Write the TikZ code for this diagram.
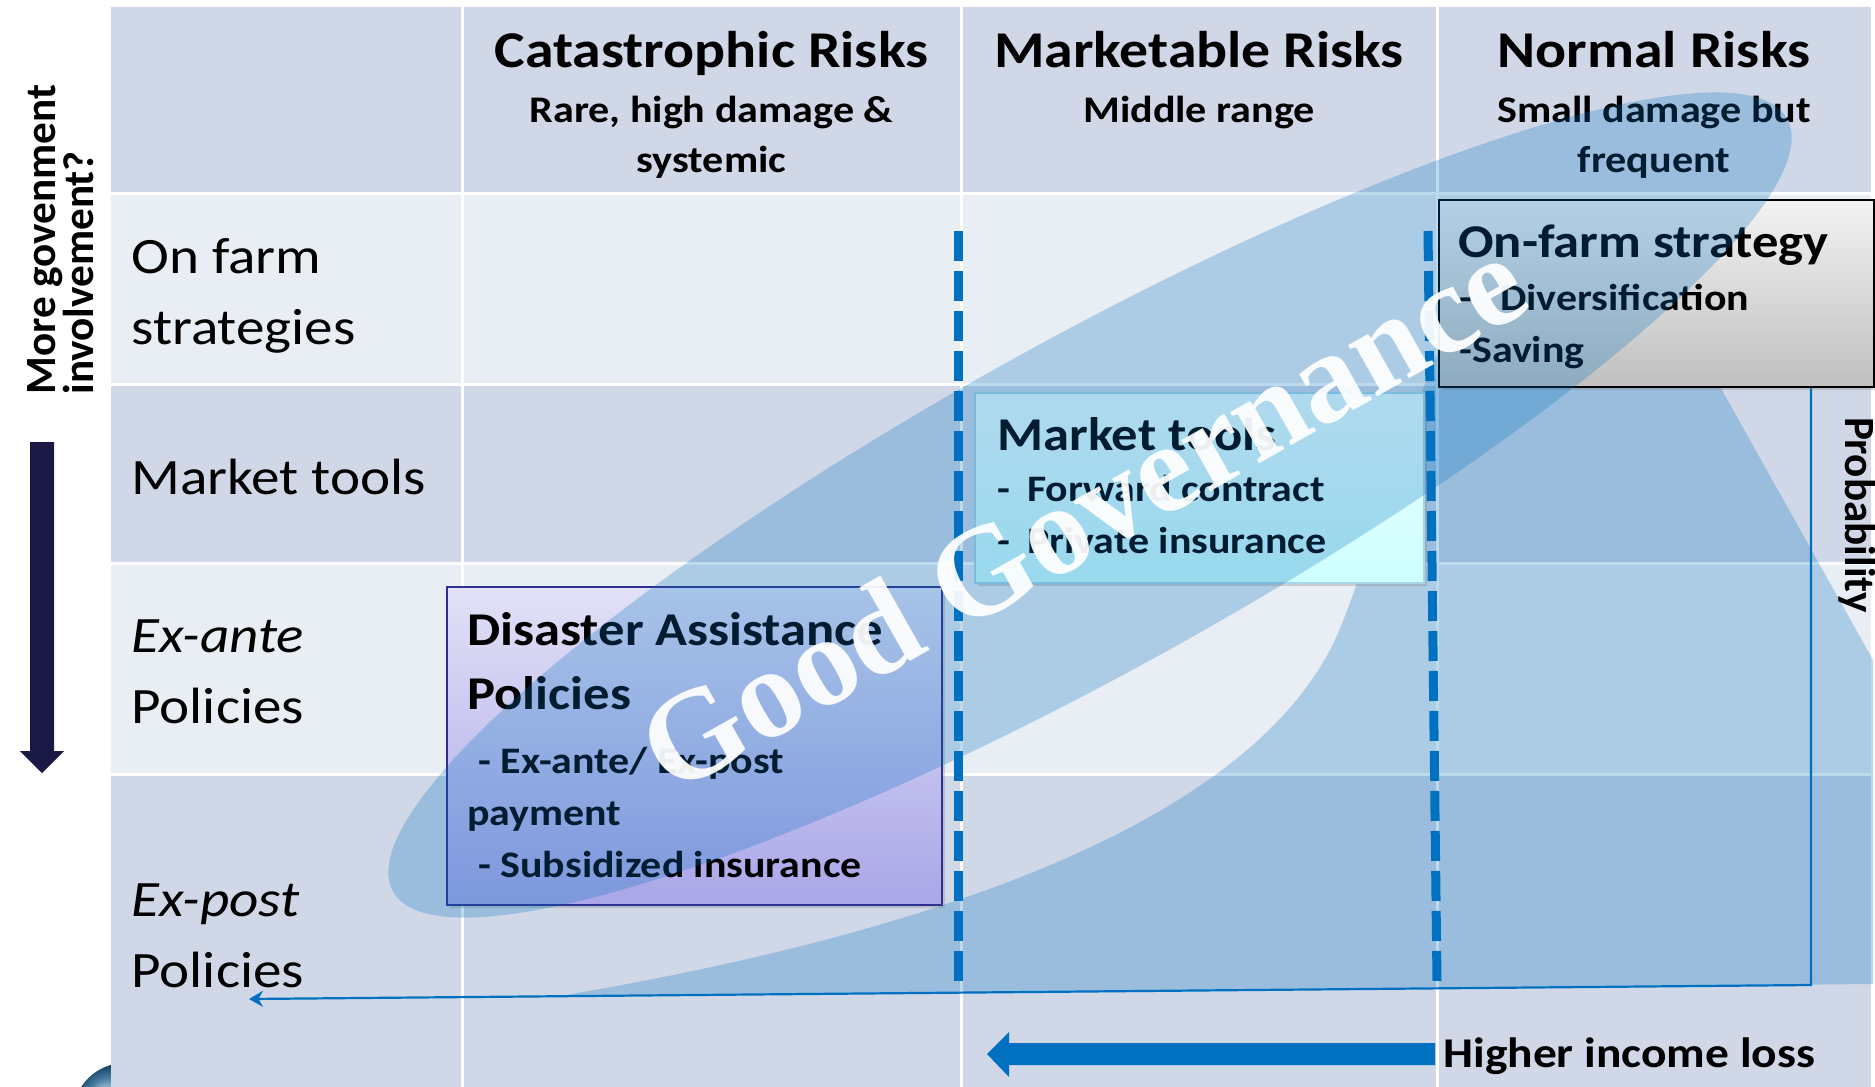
\documentclass[tikz,border=0pt]{standalone}
\usepackage{fontspec}
\setmainfont{Carlito}[FakeStretch=1.12]
\newfontfamily\plaincal{Carlito}
\newfontfamily\serifgg{Liberation Serif}
\usetikzlibrary{calc,shadows,arrows.meta}

\definecolor{rowdark}{RGB}{208,216,232}
\definecolor{rowlight}{RGB}{233,237,244}
\definecolor{riskblue}{RGB}{0,112,192}
\definecolor{navyarrow}{RGB}{26,25,70}
\definecolor{disline}{RGB}{46,49,146}
\definecolor{distop}{RGB}{226,225,246}
\definecolor{disbot}{RGB}{170,166,232}
\definecolor{mkttop}{RGB}{238,255,255}
\definecolor{mktbot}{RGB}{206,255,255}
\definecolor{mktline}{RGB}{165,215,232}
\definecolor{farmtop}{RGB}{242,242,242}
\definecolor{farmbot}{RGB}{192,192,192}
\definecolor{globeblue}{RGB}{22,92,140}

\tikzset{
	hdr/.style={font=\bfseries\fontsize{25.8}{30}\selectfont, anchor=base, inner sep=0pt},
	hdrsub/.style={font=\bfseries\fontsize{18.8}{25}\selectfont, anchor=base, align=center, inner sep=0pt},
	rowlabel/.style={font=\fontsize{25.5}{35.5}\selectfont, anchor=base west, align=left, inner sep=0pt},
	tipbox/.style={anchor=north west, inner sep=0pt, drop shadow={shadow xshift=1.5pt, shadow yshift=-1.5pt, opacity=0.3}},
	boxtitle/.style={font=\bfseries\fontsize{23.5}{32}\selectfont, anchor=base west, align=left, inner sep=0pt},
	boxitem/.style={font=\bfseries\fontsize{18.7}{26}\selectfont, anchor=base west, align=left, inner sep=0pt},
	riskdash/.style={riskblue, line width=4.5pt, dash pattern=on 15pt off 5pt},
	tint/.style={fill=riskblue, fill opacity=0.26},
	sidelabel/.style={font=\plaincal\bfseries\fontsize{21.6}{19}\selectfont, inner sep=0pt},
}

\begin{document}
\begin{tikzpicture}[x=0.5pt,y=-0.5pt]
	%Grid of the table: column lines \xa..\xe, row lines \ya..\yf
	\pgfmathsetmacro{\xa}{111}
	\pgfmathsetmacro{\xb}{462}
	\pgfmathsetmacro{\xc}{961}
	\pgfmathsetmacro{\xd}{1437}
	\pgfmathsetmacro{\xe}{1871}
	\pgfmathsetmacro{\ya}{7}
	\pgfmathsetmacro{\yb}{193}
	\pgfmathsetmacro{\yc}{384}
	\pgfmathsetmacro{\yd}{563}
	\pgfmathsetmacro{\ye}{774}
	\pgfmathsetmacro{\yf}{1087}

	\useasboundingbox[fill=white] (0,0) rectangle (1875,1087);

	%Logo peeking out at the bottom left
	\shade[ball color=globeblue] (125,1115) circle [radius=52];

	%Draw the rows, then the white cell borders
	\fill[rowdark] (\xa,\ya) rectangle (\xe,\yb);
	\fill[rowlight] (\xa,\yb) rectangle (\xe,\yc);
	\fill[rowdark] (\xa,\yc) rectangle (\xe,\yd);
	\fill[rowlight] (\xa,\yd) rectangle (\xe,\ye);
	\fill[rowdark] (\xa,\ye) rectangle (\xe,\yf);
	\foreach \yy in {\yb,\yc,\yd,\ye}
		\draw[white,line width=1.5pt] (\xa,\yy) -- (\xe,\yy);
	\foreach \xx in {\xb,\xc,\xd}
		\draw[white,line width=1.5pt] (\xx,\ya) -- (\xx,\yf);

	%Column heads (a multi-line node sits on the baseline of its last line)
	\node[hdr] (hdr_cat) at (711.5,67) {Catastrophic Risks};
	\node[hdr] (hdr_mkt) at (1199,67) {Marketable Risks};
	\node[hdr] (hdr_norm) at (1654,67) {Normal Risks};
	\node[hdrsub] (sub_cat) at (711.5,172) {Rare, high damage \&\\systemic};
	\node[hdrsub] (sub_mkt) at (1199,122) {Middle range};
	\node[hdrsub] (sub_norm) at (1654,172) {Small damage but\\frequent};

	%Row heads
	\node[rowlabel] (row_farm) at (131,344) {On farm\\strategies};
	\node[rowlabel] (row_mkt) at (131,494) {Market tools};
	\node[rowlabel] (row_ante) at (131,723) {\textit{Ex-ante}\\Policies};
	\node[rowlabel] (row_post) at (131,987) {\textit{Ex-post}\\Policies};

	%Probability curve over income loss
	\fill[tint] (560,996) .. controls (950,930) and (1240,820) .. (1330,650)
		.. controls (1380,555) and (1440,225) .. (1560,212)
		.. controls (1610,208) and (1669,296) .. (1718,383)
		-- (1873,660) -- (1873,984) -- cycle;

	%Axes of the curve
	\coordinate (axis_top) at (1811,386);
	\coordinate (axis_corner) at (1811,985);
	\coordinate (axis_end) at (249,999);
	\draw[riskblue,line width=1.1pt,-{Stealth[length=7pt,width=8pt]}] (axis_top) -- (axis_corner) -- (axis_end);

	%Borders between the risk layers
	\draw[riskdash] (958,231) -- (958,981);
	\draw[riskdash] (1428,231) -- (1437,981);

	%Boxes of instruments
	\node[tipbox, draw=disline, line width=1pt, top color=distop, bottom color=disbot,
		minimum width=247.5pt, minimum height=159pt] (box_dis) at (446,586) {};
	\node[tipbox, draw=mktline, line width=0.8pt, top color=mkttop, bottom color=mktbot,
		minimum width=224.5pt, minimum height=95pt] (box_mkt) at (974,392) {};
	\node[tipbox, draw=black, line width=1pt, top color=farmtop, bottom color=farmbot,
		minimum width=217.5pt, minimum height=93.5pt] (box_farm) at (1438,199) {};

	\node[boxtitle] (dis_title) at ($(box_dis.north west)+(21,123)$) {Disaster Assistance\\Policies};
	\node[boxitem] (dis_items) at ($(box_dis.north west)+(21,291)$) {\hspace{5.5pt}- Ex-ante/ Ex-post\\payment\\\hspace{5.5pt}- Subsidized insurance};
	\node[boxtitle] (mkt_title) at ($(box_mkt.north west)+(23,58)$) {Market tools};
	\node[boxitem] (mkt_items) at ($(box_mkt.north west)+(23,161)$) {-\hspace{8.5pt}Forward contract\\-\hspace{8.5pt}Private insurance};
	\node[boxtitle] (farm_title) at ($(box_farm.north west)+(20,58)$) {On-farm strategy};
	\node[boxitem] (farm_items) at ($(box_farm.north west)+(21,163)$) {-\hspace{14pt}Diversification\\-Saving};

	%Governance band across all layers
	\fill[tint,rotate around={29:(1090,505)}] (1090,505) ellipse [x radius=797, y radius=165];
	\node[font=\serifgg\bfseries\fontsize{64}{64}\selectfont, text=white, text opacity=0.93,
		rotate=29.5, inner sep=0pt] (gg) at (1082,514) {Good Governance};

	%Left: government involvement
	\fill[navyarrow] (30,442) -- (54,442) -- (54,751) -- (64,751) -- (42,773) -- (20,751) -- (30,751) -- cycle;
	\node[sidelabel, rotate=90, anchor=north west, align=left] (gov_label) at (27,395) {More govenment\\involvement?};

	%Right and bottom: probability and income loss
	\node[sidelabel, rotate=-90, anchor=base] (prob_label) at (1845,515) {Probability};
	\fill[riskblue] (987,1054) -- (1009,1032) -- (1009,1043) -- (1435,1043) -- (1435,1065) -- (1009,1065) -- (1009,1077) -- cycle;
	\node[font=\bfseries\fontsize{21.2}{25}\selectfont, anchor=base west, inner sep=0pt] (loss_label) at (1443,1067) {Higher income loss};

\end{tikzpicture}
\end{document}
